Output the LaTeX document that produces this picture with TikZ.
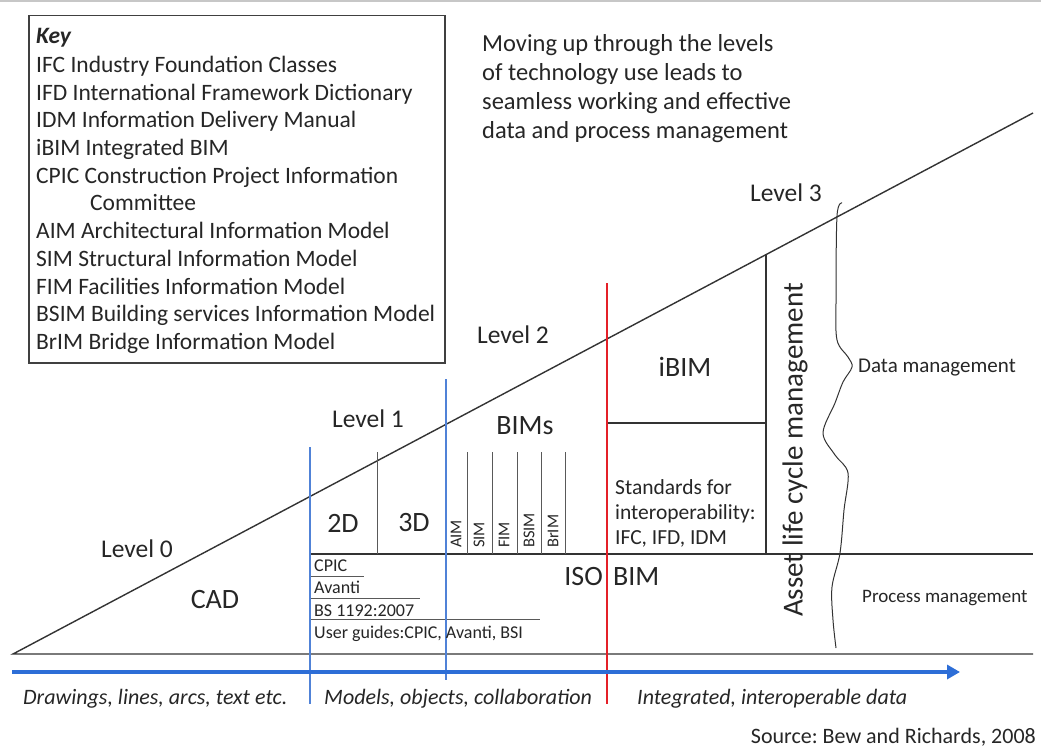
\documentclass[tikz,border=0pt]{standalone}
\usepackage{fontspec}
\setmainfont{Carlito}
\usetikzlibrary{arrows.meta}
\definecolor{ink}{RGB}{38,38,38}
\definecolor{lineblue}{RGB}{80,130,215}
\definecolor{arrowblue}{RGB}{45,110,215}
\definecolor{levelred}{RGB}{228,32,40}
\frenchspacing
\begin{document}
\begin{tikzpicture}[x=1pt,y=-1pt,
  every node/.style={inner sep=0pt, text=ink},
  fs/.style={font=\fontsize{#1}{#1}\selectfont},
  rule/.style={draw=black!80, line width=1.4pt},
  thinrule/.style={draw=black!65, line width=1pt},
  bluerule/.style={draw=lineblue, line width=2pt},
  redrule/.style={draw=levelred, line width=2.2pt},
  keyline/.style={fs=23.5, anchor=base west},
  label/.style={fs=28, anchor=center},
  levellabel/.style={fs=25.5, anchor=center},
  smalllabel/.style={fs=18, anchor=base west},
  bimlabel/.style={fs=16.5, rotate=90, anchor=west},
  axislabel/.style={fs=22, anchor=base west, font=\fontsize{22}{22}\selectfont\itshape}
]
% canvas
\fill[white] (0,0) rectangle (1041,749);
\useasboundingbox (0,0) rectangle (1041,749);
\fill[black!22] (0,0) rectangle (1041,2.5);

% main triangle
\coordinate (O) at (13,654);
\coordinate (T) at (1033,113);
\coordinate (R) at (1033,654);
\draw[rule] (T) -- (O) -- (R);

% horizontal divisions
\coordinate (midL) at (310,554);
\coordinate (midR) at (1033,554);
\draw[rule] (midL) -- (midR);
\coordinate (ibimL) at (607,423);
\coordinate (ibimR) at (766,423);
\draw[rule] (ibimL) -- (ibimR);

% vertical divisions
\coordinate (dA) at (377,452); \coordinate (dB) at (377,554);
\draw[thinrule] (dA) -- (dB);
\foreach \x [count=\i] in {467,492,517,541,565}{
  \coordinate (bt\i) at (\x,452); \coordinate (bb\i) at (\x,554);
  \draw[thinrule] (bt\i) -- (bb\i);
}
\coordinate (almT) at (766,255); \coordinate (almB) at (766,554);
\draw[rule] (almT) -- (almB);

% standards underlines
\coordinate (s1a) at (310,576); \coordinate (s1b) at (364,576);
\coordinate (s2a) at (310,598); \coordinate (s2b) at (420,598);
\coordinate (s3a) at (310,619); \coordinate (s3b) at (540,619);
\draw[thinrule] (s1a) -- (s1b);
\draw[thinrule] (s2a) -- (s2b);
\draw[thinrule] (s3a) -- (s3b);

% level boundaries
\coordinate (b1T) at (310,447); \coordinate (b1B) at (310,704);
\coordinate (b2T) at (446,379); \coordinate (b2B) at (446,680);
\coordinate (rT) at (607,283);  \coordinate (rB) at (607,704);
\draw[bluerule] (b1T) -- (b1B);
\draw[bluerule] (b2T) -- (b2B);
\draw[redrule] (rT) -- (rB);

% progress arrow
\coordinate (aS) at (12,672); \coordinate (aE) at (960,672);
\draw[draw=arrowblue, line width=4pt, -{Triangle[length=13pt,width=14pt]}] (aS) -- (aE);

% wavy divider between data and process management
\draw[draw=black!80, line width=1pt] plot[smooth, tension=0.55] coordinates {
  (842,203) (837,216) (836,300) (837,340) (848,357) (852,367) (843,382)
  (835,403) (823,433) (835,455) (848,473) (844,510) (840,553) (832,587)
  (833,620) (836,648)};

% key
\node[draw=black!75, line width=1.5pt, minimum width=416pt, minimum height=347pt,
      anchor=north west] (keybox) at (28,15) {};
\node[keyline, font=\fontsize{23.5}{24}\selectfont\bfseries\itshape] (keytitle) at (36,44) {Key};
\node[keyline] (k1) at (36,72.4) {IFC Industry Foundation Classes};
\node[keyline] (k2) at (36,100.1) {IFD International Framework Dictionary};
\node[keyline] (k3) at (36,127.8) {IDM Information Delivery Manual};
\node[keyline] (k4) at (36,155.5) {iBIM Integrated BIM};
\node[keyline] (k5) at (36,183.2) {CPIC Construction Project Information};
\node[keyline] (k6) at (90,210.9) {Committee};
\node[keyline] (k7) at (36,238.6) {AIM Architectural Information Model};
\node[keyline] (k8) at (36,266.3) {SIM Structural Information Model};
\node[keyline] (k9) at (36,294) {FIM Facilities Information Model};
\node[keyline] (k10) at (36,321.7) {BSIM Building services Information Model};
\node[keyline] (k11) at (36,349.4) {BrIM Bridge Information Model};

% headline
\node[keyline, fs=24.5] (p1) at (482,52) {Moving up through the levels};
\node[keyline, fs=24.5] (p2) at (482,80.7) {of technology use leads to};
\node[keyline, fs=24.5] (p3) at (482,109.4) {seamless working and effective};
\node[keyline, fs=24.5] (p4) at (482,138.1) {data and process management};

% levels
\node[levellabel] (lv0) at (137,549) {Level 0};
\node[levellabel] (lv1) at (368,419) {Level 1};
\node[levellabel] (lv2) at (513,335) {Level 2};
\node[levellabel] (lv3) at (786,193) {Level 3};

% areas
\node[label] (cad) at (215,600) {CAD};
\node[label] (twoD) at (343,523) {2D};
\node[label] (threeD) at (414,523) {3D};
\node[label] (bims) at (525,426) {BIMs};
\node[label] (ibim) at (685,367) {iBIM};
\node[fs=28, anchor=east] (iso) at (603,577) {ISO};
\node[fs=28, anchor=west] (bim) at (613,577) {BIM};

\node[bimlabel] (aim) at (456,548) {AIM};
\node[bimlabel] (sim) at (479,548) {SIM};
\node[bimlabel] (fim) at (504,548) {FIM};
\node[bimlabel] (bsim) at (529,548) {BSIM};
\node[bimlabel] (brim) at (553,548) {BrIM};

\node[smalllabel] (cpic) at (314,571) {CPIC};
\node[smalllabel] (avanti) at (314,593) {Avanti};
\node[smalllabel] (bs) at (314,616) {BS 1192:2007};
\node[smalllabel] (guides) at (314,638) {User guides:CPIC, Avanti, BSI};

\node[fs=21.5, anchor=base west] (st1) at (615,494) {Standards for};
\node[fs=21.5, anchor=base west] (st2) at (615,519) {interoperability:};
\node[fs=21.5, anchor=base west] (st3) at (615,544) {IFC, IFD, IDM};

\node[fs=29, rotate=90, anchor=center] (alm) at (795,450) {Asset life cycle management};

\node[fs=21, anchor=west] (dm) at (858,368) {Data management};
\node[fs=19, anchor=west] (pm) at (862,598) {Process management};

% axis captions
\node[axislabel] (ax1) at (23,704) {Drawings, lines, arcs, text etc.};
\node[axislabel] (ax2) at (324,704) {Models, objects, collaboration};
\node[axislabel] (ax3) at (637,704) {Integrated, interoperable data};

\node[fs=22, anchor=base east] (src) at (1036,743) {Source: Bew and Richards, 2008};
\end{tikzpicture}
\end{document}
